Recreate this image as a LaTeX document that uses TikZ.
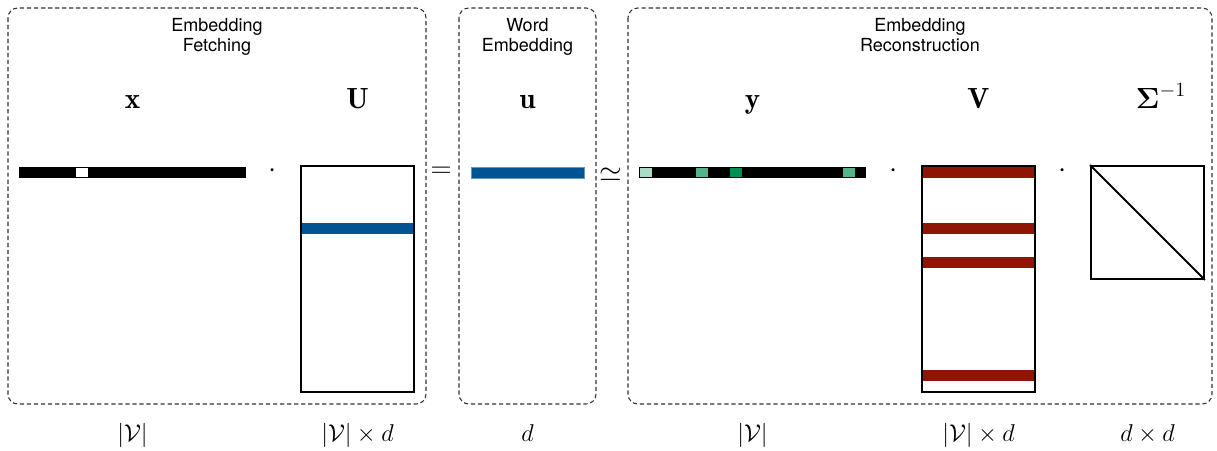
\documentclass[tikz,border=0pt]{standalone}
\usepackage{amsmath}
\usepackage{amssymb}
\usepackage{fontspec}
\newfontfamily\headfont{TeX Gyre Heros}
\definecolor{embblue}{RGB}{0,84,147}
\definecolor{recred}{RGB}{143,20,2}
\definecolor{glight}{RGB}{168,220,196}
\definecolor{gmid}{RGB}{82,180,138}
\definecolor{gdark}{RGB}{0,143,79}

\begin{document}
\begin{tikzpicture}[x=0.025cm, y=-0.025cm,
    group/.style={draw=black!80, line width=0.75pt, dash pattern=on 3pt off 2pt,
      rounded corners=7pt},
    head/.style={align=center, anchor=north, inner sep=0pt,
      font=\headfont\fontsize{12.8}{14.2}\selectfont},
    veclabel/.style={font=\huge, anchor=base},
    sym/.style={font=\LARGE, anchor=base},
    op/.style={font=\huge},
    mat/.style={draw, line width=1.3pt, inner sep=0pt, minimum width=2.825cm}
    ]
\useasboundingbox (0,0) rectangle (1217,451);

% groups
\draw[group] (8,8) rectangle (426,404);
\draw[group] (459,8) rectangle (596,404);
\draw[group] (628,8) rectangle (1212,404);
\node[head] (fetch) at (217,18) {Embedding\\Fetching};
\node[head] (word) at (527.5,18) {Word\\Embedding};
\node[head] (recon) at (920,18) {Embedding\\Reconstruction};

% names
\node[veclabel] (xlab) at (132.5,109) {$\mathbf{x}$};
\node[veclabel] (Ulab) at (357.5,109) {$\mathbf{U}$};
\node[veclabel] (ulab) at (527.5,109) {$\mathbf{u}$};
\node[veclabel] (ylab) at (752.5,109) {$\mathbf{y}$};
\node[veclabel] (Vlab) at (978.5,109) {$\mathbf{V}$};
\node[veclabel] (Slab) at (1161,109) {$\boldsymbol{\Sigma}^{-1}$};

% x one-hot
\fill (19,167) rectangle (246,178);
\fill[white] (76,168) rectangle (88,177);
\node[op] (dot1) at (273,171) {$\cdot$};

% U
\fill[embblue] (301,223) rectangle (414,234);
\node[mat, minimum height=5.65cm] (Umat) at (357.5,279) {};

\node[op] (eq) at (441,172) {$=$};

% u
\fill[embblue] (471,167) rectangle (584,178);
\draw[embblue!60, line width=0.5pt] (471,167) rectangle (584,178);

\node[op] (approx) at (611,175) {$\simeq$};

% y
\fill (639,167) rectangle (866,178);
\fill[glight] (640,168) rectangle (652,177);
\fill[gmid] (696,168) rectangle (708,177);
\fill[gdark] (730,168) rectangle (742,177);
\fill[gmid] (843,168) rectangle (855,177);
\node[op] (dot2) at (894,171) {$\cdot$};

% V
\foreach \r in {167,223,257,370}
  \fill[recred] (922,\r) rectangle (1035,\r+11);
\node[mat, minimum height=5.65cm] (Vmat) at (978.5,279) {};
\node[op] (dot3) at (1063,171) {$\cdot$};

% Sigma^-1
\node[mat, minimum height=2.825cm] (Smat) at (1147.5,222.5) {};
\draw[line width=1.3pt] (Smat.north west) -- (Smat.south east);

% sizes
\node[sym] (xdim) at (132.5,442) {$|\mathcal{V}|$};
\node[sym] (Udim) at (357.5,442) {$|\mathcal{V}| \times d$};
\node[sym] (udim) at (527.5,442) {$d$};
\node[sym] (ydim) at (752.5,442) {$|\mathcal{V}|$};
\node[sym] (Vdim) at (978.5,442) {$|\mathcal{V}| \times d$};
\node[sym] (Sdim) at (1147.5,442) {$d \times d$};
\end{tikzpicture}
\end{document}
